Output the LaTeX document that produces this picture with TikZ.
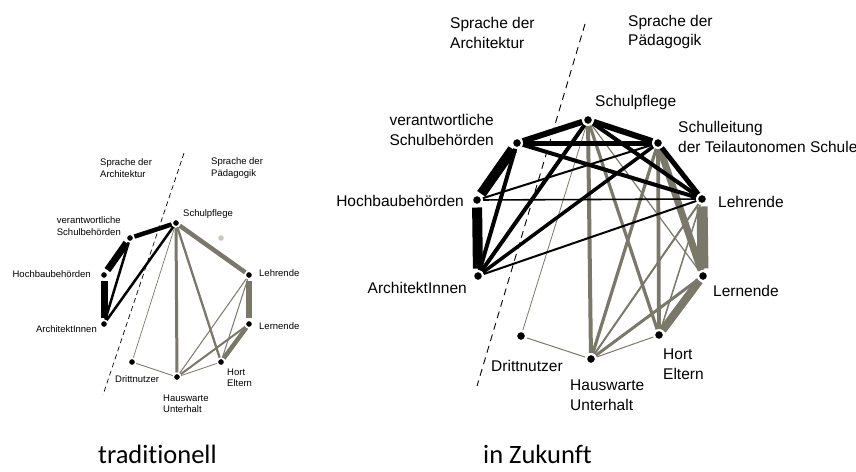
\documentclass[tikz,border=0pt]{standalone}
\usepackage{fontspec}
\setmainfont{Liberation Sans}
\newfontfamily\capfont[Ligatures=NoCommon]{Carlito}
\usetikzlibrary{backgrounds}
\definecolor{olivegray}{RGB}{122,120,104}
\definecolor{faintdot}{RGB}{200,200,192}

\tikzset{
  bigdot/.style={circle,fill=black,draw=white,line width=2pt,minimum size=10pt,inner sep=0pt},
  smalldot/.style={circle,fill=black,draw=white,line width=1.5pt,minimum size=7.5pt,inner sep=0pt},
  biglabel/.style={font=\fontsize{15.5}{19.5}\selectfont,inner sep=0pt,align=left},
  smalllabel/.style={font=\fontsize{9.5}{11.5}\selectfont,inner sep=0pt,align=left},
  archline/.style={draw=black},
  paedline/.style={draw=olivegray},
  band/.style={shorten <=1.5pt,shorten >=1.5pt},
  divider/.style={draw=black,line width=0.9pt,dash pattern=on 7pt off 5pt},
  smalldivider/.style={draw=black,line width=0.7pt,dash pattern=on 5pt off 3.5pt},
  caption/.style={font=\capfont\fontsize{26.5}{30}\selectfont,inner sep=0pt,anchor=base west}
}

\begin{document}
\begin{tikzpicture}[x=1pt,y=-1pt]
  \useasboundingbox (0,0) rectangle (856,471);

  % traditionell
  \node[smalldot] (lSP) at (176,223) {};
  \node[smalldot] (lVS) at (130,238) {};
  \node[smalldot] (lHB) at (104,275) {};
  \node[smalldot] (lAR) at (104,324) {};
  \node[smalldot] (lLE) at (249,275) {};
  \node[smalldot] (lLN) at (249,324) {};
  \node[smalldot] (lDN) at (132,362) {};
  \node[smalldot] (lHW) at (177,377) {};
  \node[smalldot] (lHO) at (221,362) {};
  \node[circle,fill=faintdot,minimum size=5.5pt,inner sep=0pt] (lSL) at (221,238) {};

  \coordinate (lTop) at (184,153);
  \coordinate (lBot) at (103,395);
  \draw[smalldivider] (lTop) -- (lBot);

  \node[smalllabel,anchor=west] (lArch) at (100,168) {Sprache der\\Architektur};
  \node[smalllabel,anchor=west] (lPaed) at (211,168) {Sprache der\\Pädagogik};
  \node[smalllabel,anchor=west] (lSPlab) at (183,214) {Schulpflege};
  \node[smalllabel,anchor=east] (lVSlab) at (121,226) {verantwortliche\\Schulbehörden};
  \node[smalllabel,anchor=east] (lHBlab) at (91,274) {Hochbaubehörden};
  \node[smalllabel,anchor=east] (lARlab) at (97,329) {ArchitektInnen};
  \node[smalllabel,anchor=west] (lLElab) at (259,273) {Lehrende};
  \node[smalllabel,anchor=west] (lLNlab) at (259,326) {Lernende};
  \node[smalllabel,anchor=west] (lDNlab) at (115,379) {Drittnutzer};
  \node[smalllabel,anchor=west] (lHOlab) at (227,378) {Hort\\Eltern};
  \node[smalllabel,anchor=west] (lHWlab) at (163,404) {Hauswarte\\Unterhalt};

  % in Zukunft
  \node[bigdot] (rSP) at (588,120) {};
  \node[bigdot] (rVS) at (517,143) {};
  \node[bigdot] (rSL) at (658,143) {};
  \node[bigdot] (rHB) at (477,200) {};
  \node[bigdot] (rLE) at (702,199) {};
  \node[bigdot] (rAR) at (478,276) {};
  \node[bigdot] (rLN) at (703,276) {};
  \node[bigdot] (rDN) at (521,336) {};
  \node[bigdot] (rHW) at (591,359) {};
  \node[bigdot] (rHO) at (659,335) {};

  \coordinate (rTop) at (585,24);
  \coordinate (rBot) at (477,386);
  \draw[divider] (rTop) -- (rBot);

  \node[biglabel,anchor=west] (rArch) at (450,33) {Sprache der\\Architektur};
  \node[biglabel,anchor=west] (rPaed) at (628,32) {Sprache der\\Pädagogik};
  \node[biglabel,anchor=west] (rSPlab) at (595,102) {Schulpflege};
  \node[biglabel,anchor=east] (rVSlab) at (494,130) {verantwortliche\\Schulbehörden};
  \node[biglabel,anchor=west] (rSLlab) at (678,137) {Schulleitung\\der Teilautonomen Schule};
  \node[biglabel,anchor=east] (rHBlab) at (464,201) {Hochbaubehörden};
  \node[biglabel,anchor=west] (rLElab) at (718,202) {Lehrende};
  \node[biglabel,anchor=east] (rARlab) at (467,288) {ArchitektInnen};
  \node[biglabel,anchor=west] (rLNlab) at (713,291) {Lernende};
  \node[biglabel,anchor=west] (rDNlab) at (491,366) {Drittnutzer};
  \node[biglabel,anchor=west] (rHOlab) at (663,364) {Hort\\Eltern};
  \node[biglabel,anchor=west] (rHWlab) at (570,395) {Hauswarte\\Unterhalt};

  \node[caption] (capL) at (98,463) {traditionell};
  \node[caption] (capR) at (483,463) {in Zukunft};

  \begin{scope}[on background layer]
    % traditionell, architecture side
    \draw[archline,line width=4.5pt] (lSP) -- (lVS);
    \draw[archline,band,line width=7pt] (lVS) -- (lHB);
    \draw[archline,band,line width=7pt] (lHB) -- (lAR);
    \draw[archline,line width=2.5pt] (lVS) -- (lAR);
    \draw[archline,line width=2.5pt] (lSP) -- (lAR);
    % traditionell, pedagogy side
    \draw[paedline,line width=4.5pt] (lSP) -- (lLE);
    \draw[paedline,line width=3pt] (lSP) -- (lHW);
    \draw[paedline,line width=2.3pt] (lSP) -- (lHO);
    \draw[paedline,line width=0.7pt] (lSP) -- (lDN);
    \draw[paedline,band,line width=6pt] (lLE) -- (lLN);
    \draw[paedline,line width=4.5pt] (lLN) -- (lHO);
    \draw[paedline,line width=2pt] (lHW) -- (lLN);
    \draw[paedline,line width=1pt] (lHW) -- (lLE);
    \draw[paedline,line width=1pt] (lHO) -- (lLE);
    \draw[paedline,line width=0.8pt] (lHW) -- (lHO);
    \draw[paedline,line width=0.8pt] (lDN) -- (lHW);

    % in Zukunft, pedagogy side
    \draw[paedline,line width=4pt] (rSP) -- (rHW);
    \draw[paedline,line width=3.8pt] (rSL) -- (rHO);
    \draw[paedline,line width=3.2pt] (rSL) -- (rHW);
    \draw[paedline,line width=3.2pt] (rSP) -- (rHO);
    \draw[paedline,line width=7pt] (rSL) -- (rLN);
    \draw[paedline,band,line width=11pt] (rLE) -- (rLN);
    \draw[paedline,line width=8pt] (rHO) -- (rLN);
    \draw[paedline,line width=3pt] (rHW) -- (rLN);
    \draw[paedline,line width=2pt] (rHW) -- (rLE);
    \draw[paedline,line width=1.5pt] (rHO) -- (rLE);
    \draw[paedline,line width=1.2pt] (rSP) -- (rLN);
    \draw[paedline,line width=1pt] (rHW) -- (rHO);
    \draw[paedline,line width=1pt] (rDN) -- (rHW);
    \draw[paedline,line width=0.8pt] (rSP) -- (rDN);
    % in Zukunft, architecture side
    \draw[archline,line width=6pt] (rSP) -- (rVS);
    \draw[archline,line width=6pt] (rSP) -- (rSL);
    \draw[archline,line width=5pt] (rVS) -- (rSL);
    \draw[archline,band,line width=10pt] (rVS) -- (rHB);
    \draw[archline,band,line width=10pt] (rHB) -- (rAR);
    \draw[archline,line width=5pt] (rSL) -- (rLE);
    \draw[archline,line width=4pt] (rSP) -- (rLE);
    \draw[archline,line width=4pt] (rVS) -- (rLE);
    \draw[archline,line width=4pt] (rAR) -- (rVS);
    \draw[archline,line width=4pt] (rAR) -- (rSP);
    \draw[archline,line width=3.5pt] (rAR) -- (rSL);
    \draw[archline,line width=2pt] (rHB) -- (rSL);
    \draw[archline,line width=1.6pt] (rHB) -- (rLE);
    \draw[archline,line width=2pt] (rAR) -- (rLE);
  \end{scope}
\end{tikzpicture}
\end{document}
